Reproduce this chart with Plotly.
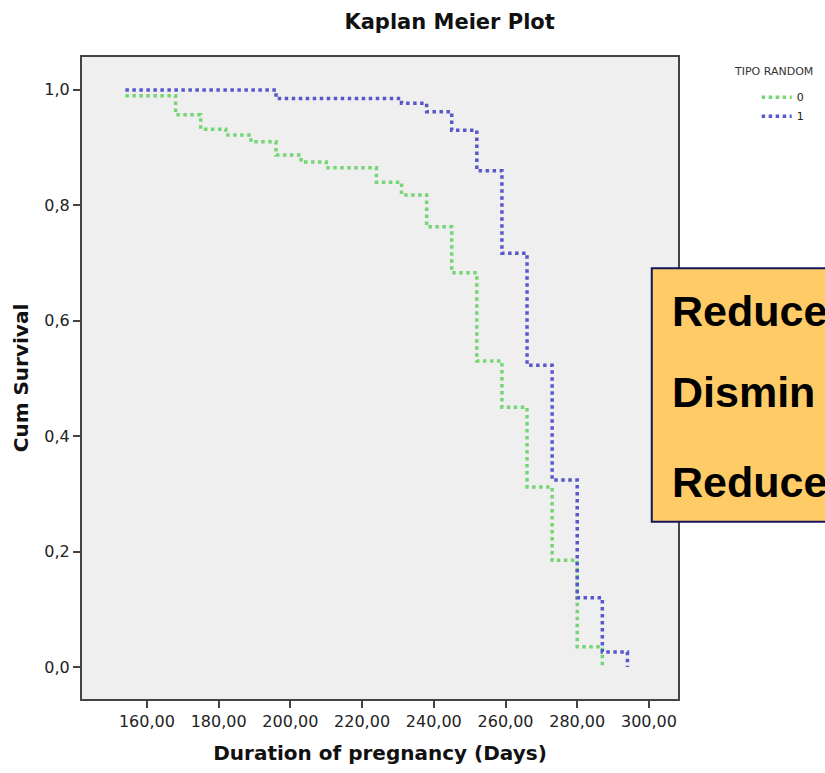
import plotly.graph_objects as go

# Kaplan-Meier step data (days, cumulative survival)
days_0 = [154, 168, 175, 182, 189, 196, 203, 210, 224, 231, 238, 245, 252, 259, 266, 273, 280, 287]
surv_0 = [0.99, 0.957, 0.932, 0.922, 0.91, 0.887, 0.875, 0.865, 0.84, 0.818, 0.763, 0.683, 0.53, 0.45, 0.312, 0.185, 0.035, 0.0]

days_1 = [154, 196, 231, 238, 245, 252, 259, 266, 273, 280, 287, 294]
surv_1 = [1.0, 0.985, 0.977, 0.962, 0.93, 0.86, 0.717, 0.523, 0.324, 0.12, 0.026, 0.0]

x_ticks = [160, 180, 200, 220, 240, 260, 280, 300]
y_ticks = [0.0, 0.2, 0.4, 0.6, 0.8, 1.0]

box_lines = ["Reduce", "Dismin", "Reduce"]

GREEN = "#76d676"
BLUE = "#5858cc"

fig = go.Figure()
fig.add_trace(go.Scatter(x=days_0, y=surv_0, mode="lines", name="0",
                         line=dict(shape="hv", color=GREEN, width=3.5, dash="3.5px,3.5px")))
fig.add_trace(go.Scatter(x=days_1, y=surv_1, mode="lines", name="1",
                         line=dict(shape="hv", color=BLUE, width=3.5, dash="3.5px,3.5px")))

axis_common = dict(showline=True, linecolor="#444444", linewidth=2, mirror=True,
                   ticks="outside", ticklen=7, tickwidth=2, tickcolor="#444444",
                   showgrid=False, zeroline=False,
                   tickfont=dict(family="DejaVu Sans", size=16, color="#222222"))

fig.update_layout(
    width=825, height=773,
    margin=dict(l=82, r=147, t=57, b=74),
    paper_bgcolor="white", plot_bgcolor="#efefef",
    separators=",.",
    title=dict(text="<b>Kaplan Meier Plot</b>", x=0.545, xanchor="center", y=0.972, yanchor="middle",
               font=dict(family="DejaVu Sans", size=21, color="#111111")),
    xaxis=dict(range=[141.9, 308.1], tickvals=x_ticks, tickformat=".2f",
               title=dict(text="<b>Duration of pregnancy (Days)</b>", standoff=16,
                          font=dict(family="DejaVu Sans", size=20, color="#111111")),
               **axis_common),
    yaxis=dict(range=[-0.0555, 1.057], tickvals=y_ticks, tickformat=".1f",
               title=dict(text="<b>Cum Survival</b>", standoff=10,
                          font=dict(family="DejaVu Sans", size=20, color="#111111")),
               **axis_common),
    legend=dict(x=1.132, xanchor="left", y=0.96, yanchor="top",
                font=dict(family="DejaVu Sans", size=11, color="#222222"),
                itemwidth=30, tracegroupgap=0, bgcolor="rgba(0,0,0,0)"),
    showlegend=True,
)

fig.add_annotation(text="TIPO RANDOM", xref="paper", yref="paper", x=1.09, y=0.978,
                   xanchor="left", yanchor="middle", showarrow=False,
                   font=dict(family="DejaVu Sans", size=11, color="#333333"))

# Orange overlay box (paper coords), drawn above the plot frame
fig.add_shape(type="rect", xref="paper", yref="paper", x0=0.956, x1=1.3, y0=0.276, y1=0.671,
              fillcolor="#ffcb66", line=dict(color="#14145e", width=2), layer="above")

for txt, yp in zip(box_lines, [0.604, 0.478, 0.338]):
    fig.add_annotation(text="<b>" + txt + "</b>", xref="paper", yref="paper", x=0.986, y=yp,
                       xanchor="left", yanchor="middle", showarrow=False,
                       font=dict(family="Liberation Sans", size=43, color="black"))

fig.write_html("out.html")
